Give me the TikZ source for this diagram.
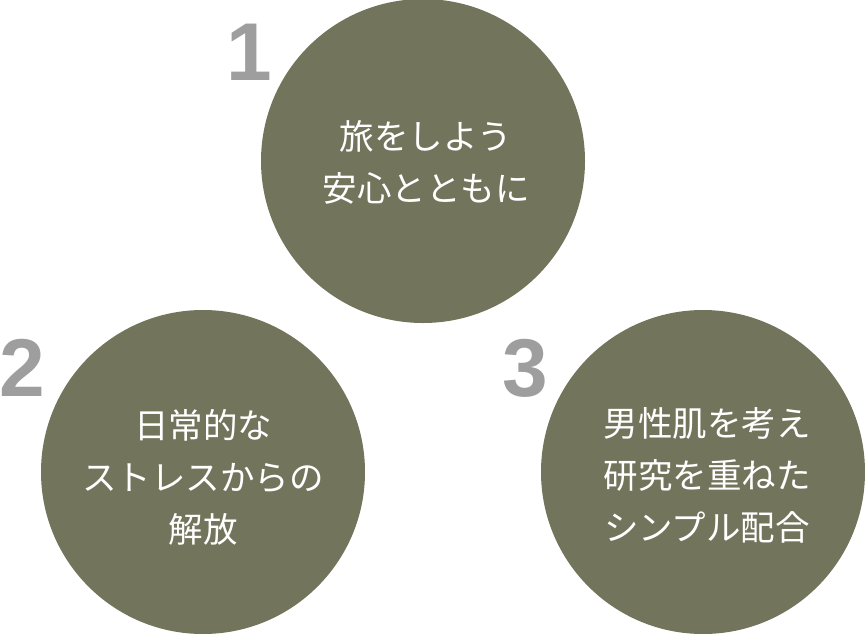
\documentclass[tikz,border=0pt]{standalone}
\usepackage{fontspec}
\setmainfont{Liberation Sans}
\newfontfamily\jpfont{Noto Sans CJK JP}
\newfontfamily\numfont{Liberation Sans}
\definecolor{olive}{RGB}{115,116,92}
\definecolor{numgray}{RGB}{158,158,158}
\tikzset{
  bubble/.style={circle, fill=olive, minimum size=324pt, inner sep=0pt},
  bubbletext/.style={text=white, align=center, font=\jpfont\fontsize{34.5}{52}\selectfont},
  numlabel/.style={text=numgray, font=\numfont\bfseries\fontsize{82}{82}\selectfont, inner sep=0pt}
}
\begin{document}
\begin{tikzpicture}[x=1pt,y=-1pt]
\useasboundingbox (0,0) rectangle (865,633);
\node[bubble] (c1) at (423,161) {};
\node[bubble] (c2) at (203,472) {};
\node[bubble] (c3) at (703,472) {};
\node[bubbletext] (t1) at (426,162) {旅をしよう\\安心とともに};
\node[bubbletext] (t2) at (203,477) {日常的な\\ストレスからの\\解放};
\node[bubbletext] (t3) at (707,475) {男性肌を考え\\研究を重ねた\\シンプル配合};
\node[numlabel] (n1) at (249,52) {1};
\node[numlabel] (n2) at (22,368) {2};
\node[numlabel] (n3) at (525,368) {3};
\end{tikzpicture}
\end{document}
